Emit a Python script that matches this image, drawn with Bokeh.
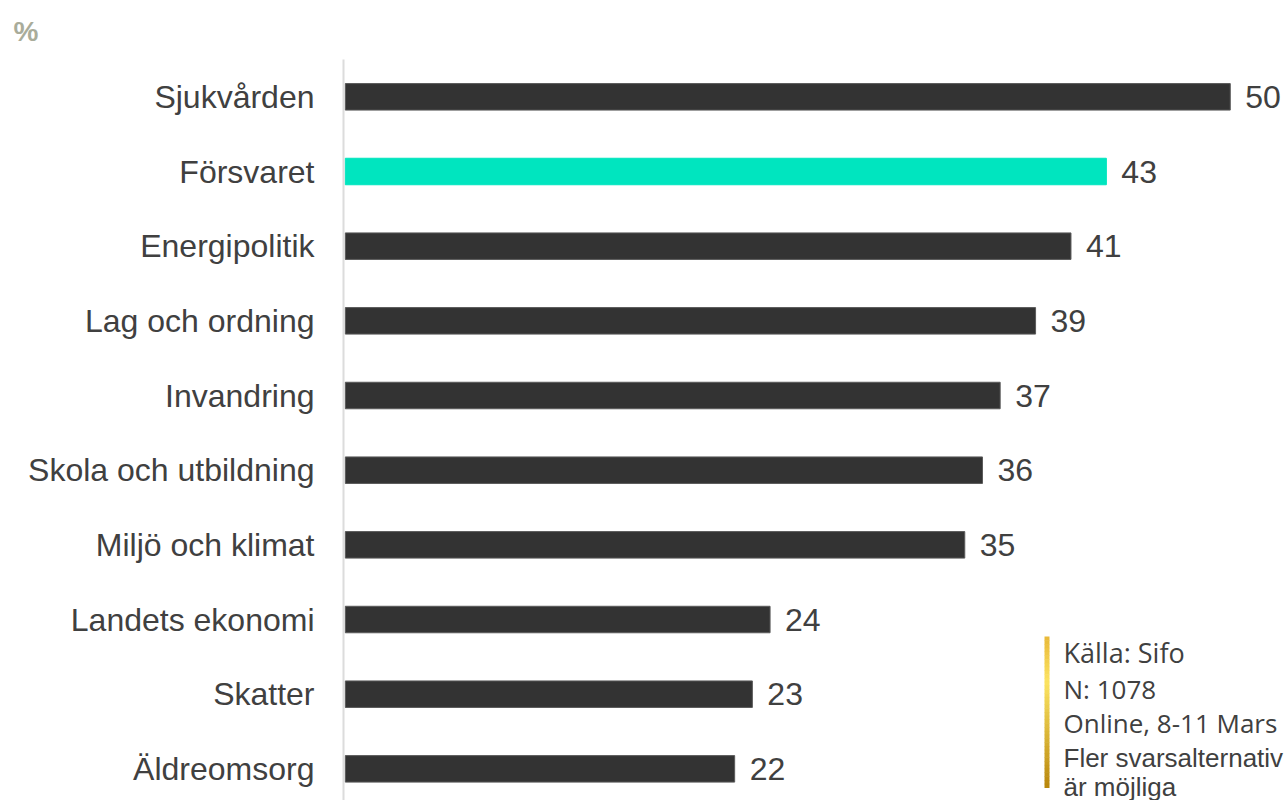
from bokeh.plotting import figure
from bokeh.models import ColumnDataSource, Range1d, LinearAxis, FixedTicker, Label, Title
from bokeh.embed import file_html
from bokeh.resources import INLINE

categories = ["Sjukvården", "Försvaret", "Energipolitik", "Lag och ordning", "Invandring",
              "Skola och utbildning", "Miljö och klimat", "Landets ekonomi", "Skatter", "Äldreomsorg"]
values = [50, 43, 41, 39, 37, 36, 35, 24, 23, 22]
highlight = "Försvaret"
source_lines = ["Källa: Sifo", "N: 1078", "Online, 8-11 Mars", "Fler svarsalternativ", "är möjliga"]

W, H = 1286, 800
LEFT, TOP = 343, 59
XSCALE = 17.7     # px per percent
YSTEP = 74.67     # px per category
X0 = -0.1
fw = W - LEFT
fh = H - TOP

def px2x(page_x):
    return X0 + (page_x - LEFT) / XSCALE

def px2y(page_y):
    return -0.5 + (page_y - TOP) / YSTEP

ys = list(range(len(categories)))
fill = ["#00E5BF" if c == highlight else "#333333" for c in categories]
line = ["#00E5BF" if c == highlight else "#5a5a5a" for c in categories]
src = ColumnDataSource(dict(y=ys, v=values, lab=[str(v) for v in values], fill=fill, line=line))

p = figure(width=W, height=H, output_backend="svg", toolbar_location=None,
           x_range=Range1d(X0, X0 + fw / XSCALE), y_range=Range1d(-0.5 + fh / YSTEP, -0.5),
           x_axis_type=None, y_axis_type=None,
           min_border_left=LEFT, min_border_right=0, min_border_top=TOP, min_border_bottom=0)
p.outline_line_color = None
p.grid.visible = False
p.background_fill_color = "white"
p.border_fill_color = "white"

ax = LinearAxis(ticker=FixedTicker(ticks=ys),
                major_label_overrides={i: c for i, c in enumerate(categories)})
ax.axis_line_color = "#dcdcdc"
ax.axis_line_width = 2
ax.major_tick_line_color = None
ax.minor_tick_line_color = None
ax.major_tick_out = 0
ax.major_tick_in = 0
ax.major_label_standoff = 29
ax.major_label_text_font = "Liberation Sans"
ax.major_label_text_font_size = "32px"
ax.major_label_text_color = "#404040"
p.add_layout(ax, "left")

p.hbar(y="y", left=0, right="v", height=0.355, fill_color="fill", line_color="line",
       line_width=1, source=src)
p.text(x="v", y="y", text="lab", x_offset=15, text_baseline="middle", text_align="left",
       text_font_size="32px", text_color="#404040", text_font={"value": "Liberation Sans"}, source=src)

# "%" unit label as a title above the frame
p.add_layout(Title(text="%", align="left", offset=13 - LEFT, standoff=26, text_line_height=0.7,
                   text_font="Liberation Sans", text_font_size="28px", text_font_style="bold",
                   text_color="#A9AC9A"), "above")

# gold gradient bar
stops = [(0.0, (232, 184, 56)), (0.3, (252, 228, 98)), (1.0, (184, 134, 11))]
def col_at(t):
    for (t0, c0), (t1, c1) in zip(stops[:-1], stops[1:]):
        if t0 <= t <= t1:
            f = (t - t0) / (t1 - t0)
            return "#%02x%02x%02x" % tuple(int(round(a + (b - a) * f)) for a, b in zip(c0, c1))
    return "#%02x%02x%02x" % stops[-1][1]
n = 40
top_px, bot_px = 636, 787
seg = (bot_px - top_px) / n
tops = [px2y(top_px + i * seg) for i in range(n)]
bots = [px2y(top_px + (i + 1) * seg + 0.5) for i in range(n)]
cols = [col_at((i + 0.5) / n) for i in range(n)]
p.quad(left=[px2x(1044)] * n, right=[px2x(1049)] * n, top=tops, bottom=bots,
       fill_color=cols, line_color=None)

baselines = [652, 688, 722, 757, 786]
fonts = ["Open Sans", "Open Sans", "Open Sans", "Liberation Sans", "Liberation Sans"]
sizes = ["27px", "26px", "26px", "26px", "26px"]
for t, b, f, s in zip(source_lines, baselines, fonts, sizes):
    p.add_layout(Label(x=px2x(1063), y=px2y(b), text=t, text_font=f, text_font_size=s,
                       text_color="#404040", text_baseline="alphabetic"))

open("out.html", "w").write(file_html(p, INLINE))
